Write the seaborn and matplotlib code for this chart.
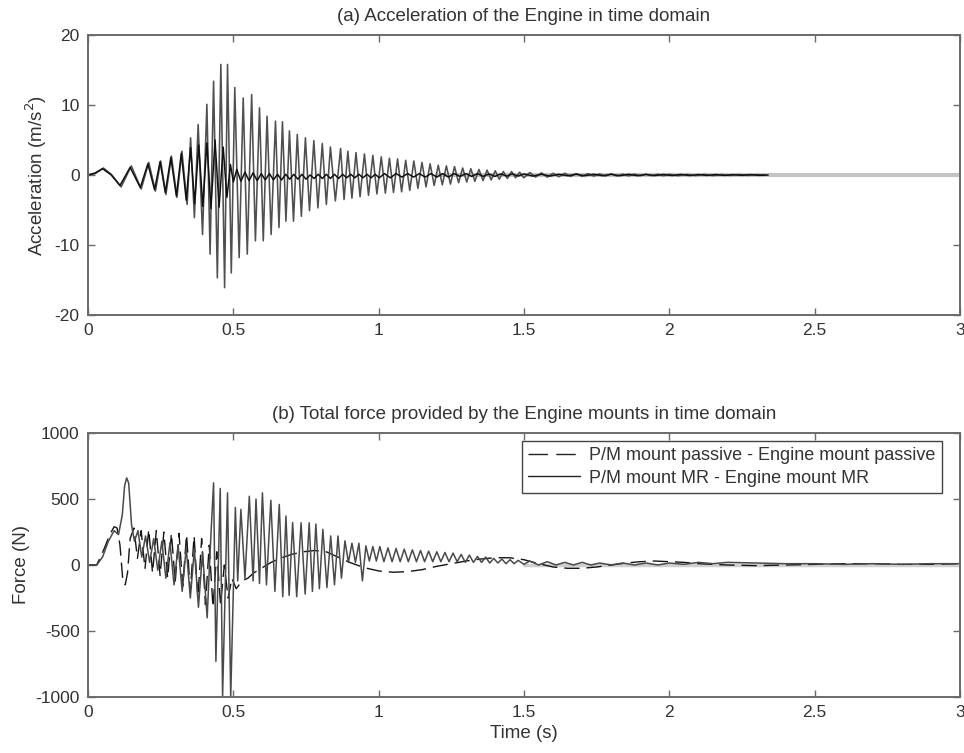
import matplotlib
matplotlib.use("Agg")
import matplotlib.pyplot as plt
import seaborn as sns
from matplotlib.lines import Line2D

# ---------------- data (extrema) ----------------
# (a) acceleration, series with large oscillation
acc1_t = [0.000, 0.025, 0.053, 0.080, 0.114, 0.149, 0.183, 0.209, 0.232, 0.250, 0.268, 0.287, 0.306, 0.323, 0.341,
          0.353, 0.366, 0.379, 0.394, 0.409, 0.420, 0.432, 0.445, 0.457, 0.470, 0.480, 0.493, 0.505, 0.520, 0.534,
          0.548, 0.563, 0.576, 0.590, 0.603, 0.616, 0.630, 0.645, 0.657, 0.669, 0.681, 0.693, 0.707, 0.720, 0.734,
          0.748, 0.762, 0.777, 0.791, 0.806, 0.820, 0.834, 0.851, 0.869, 0.881, 0.894, 0.908, 0.922, 0.936, 0.951,
          0.965, 0.980, 0.994, 1.009, 1.023, 1.037, 1.051, 1.065, 1.079, 1.093, 1.107, 1.121, 1.135, 1.149, 1.163,
          1.177, 1.191, 1.205, 1.219, 1.233, 1.247, 1.261, 1.275, 1.289, 1.303, 1.317, 1.331, 1.345, 1.359, 1.373,
          1.387, 1.401, 1.415, 1.429, 1.443, 1.457, 1.471, 1.485, 1.499, 1.520, 1.540, 1.560, 1.580, 1.600, 1.620,
          1.640, 1.660, 1.680, 1.700, 1.720, 1.740, 1.760, 1.780, 1.800, 1.820, 1.840, 1.860, 1.880, 1.900, 1.920,
          1.940, 1.960, 1.980, 2.000, 2.030, 2.060, 2.090, 2.120, 2.150, 2.180, 2.210, 2.240, 2.270, 2.300, 2.330]
acc1_v = [0.0, 0.2, 1.0, 0.1, -1.7, 1.3, -2.0, 1.8, -2.3, 2.0, -2.8, 2.7, -3.2, 3.4, -4.2,
          5.3, -6.1, 7.2, -8.5, 10.1, -11.3, 13.4, -14.7, 15.8, -16.1, 15.8, -14.0, 12.5, -11.8, 11.0,
          -11.3, 11.5, -9.4, 9.6, -9.4, 8.4, -8.5, 7.7, -7.5, 7.6, -6.6, 6.3, -6.6, 5.8, -5.9,
          5.3, -5.1, 4.9, -4.7, 4.5, -4.2, 4.0, -3.7, 3.8, -3.5, 3.4, -3.3, 3.2, -3.1, 3.0,
          -2.9, 2.8, -2.7, 2.6, -2.6, 2.4, -2.5, 2.3, -2.4, 2.1, -2.2, 2.0, -1.9, 1.8, -1.7,
          1.6, -1.5, 1.4, -1.4, 1.3, -1.3, 1.2, -1.1, 1.0, -1.0, 0.9, -0.9, 0.8, -0.8, 0.7,
          -0.7, 0.6, -0.6, 0.5, -0.5, 0.5, -0.4, 0.4, -0.4, 0.35, -0.3, 0.3, -0.3, 0.25, -0.25,
          0.25, -0.2, 0.2, -0.2, 0.2, -0.15, 0.15, -0.15, 0.15, -0.15, 0.12, -0.12, 0.12, -0.1, 0.1,
          -0.1, 0.1, -0.1, 0.1, -0.1, 0.08, -0.08, 0.08, -0.08, 0.06, -0.06, 0.06, -0.05, 0.05, 0.0]

# (a) acceleration, series with moderate oscillation
acc2_t = [0.000, 0.025, 0.050, 0.080, 0.110, 0.145, 0.180, 0.206, 0.229, 0.248, 0.266, 0.285, 0.304, 0.321, 0.338,
          0.353, 0.367, 0.381, 0.395, 0.409, 0.423, 0.437, 0.451, 0.465, 0.478, 0.490, 0.500, 0.512, 0.526, 0.540,
          0.554, 0.568, 0.582, 0.596, 0.610, 0.624, 0.638, 0.652, 0.666, 0.680, 0.694, 0.708, 0.722, 0.736, 0.750,
          0.764, 0.778, 0.792, 0.806, 0.820, 0.834, 0.848, 0.862, 0.876, 0.890, 0.904, 0.918, 0.932, 0.946, 0.960,
          0.974, 0.988, 1.002, 1.020, 1.040, 1.060, 1.080, 1.100, 1.120, 1.140, 1.160, 1.180, 1.200, 1.220, 1.240,
          1.260, 1.280, 1.300, 1.320, 1.340, 1.360, 1.380, 1.400, 1.420, 1.440, 1.460, 1.480, 1.500, 1.530, 1.560,
          1.590, 1.620, 1.650, 1.680, 1.710, 1.740, 1.770, 1.800, 1.830, 1.860, 1.890, 1.920, 1.950, 1.980, 2.010,
          2.040, 2.070, 2.100, 2.130, 2.160, 2.190, 2.220, 2.250, 2.280, 2.310, 2.340]
acc2_v = [0.0, 0.3, 0.9, 0.0, -1.5, 1.1, -1.8, 1.6, -2.1, 1.9, -2.5, 2.5, -3.0, 3.1, -3.6,
          3.9, -4.1, 4.3, -4.5, 4.6, -4.8, 5.0, -4.6, 4.0, -3.2, 1.5, -1.0, 0.8, -0.9, 0.4,
          -0.8, 0.3, -0.8, 0.2, -0.7, 0.2, -0.7, 0.1, -0.7, 0.1, -0.6, 0.1, -0.6, 0.1, -0.6,
          0.0, -0.5, 0.1, -0.5, 0.1, -0.5, 0.1, -0.5, 0.1, -0.4, 0.1, -0.4, 0.1, -0.4, 0.1,
          -0.4, 0.1, -0.4, 0.2, -0.4, 0.2, -0.3, 0.2, -0.3, 0.2, -0.3, 0.2, -0.3, 0.2, -0.3,
          0.2, -0.2, 0.2, -0.2, 0.2, -0.2, 0.15, -0.2, 0.15, -0.15, 0.15, -0.15, 0.15, -0.15, 0.1,
          -0.15, 0.1, -0.1, 0.1, -0.1, 0.1, -0.1, 0.1, -0.1, 0.1, -0.1, 0.08, -0.08, 0.08, -0.08,
          0.08, -0.08, 0.06, -0.06, 0.06, -0.06, 0.05, -0.05, 0.05, -0.05, 0.0]

# grey settled trace along zero
acc_rest_t = [1.20, 3.00]
acc_rest_v = [0.0, 0.0]

# (b) force, MR mounts (solid)
mr_t = [0.000, 0.030, 0.050, 0.070, 0.090, 0.105, 0.118, 0.126, 0.133, 0.140, 0.150, 0.160, 0.172, 0.185, 0.198,
        0.212, 0.226, 0.240, 0.254, 0.268, 0.282, 0.296, 0.310, 0.324, 0.338, 0.352, 0.366, 0.380, 0.394, 0.410,
        0.420, 0.432, 0.440, 0.455, 0.463, 0.480, 0.491, 0.507, 0.515, 0.526, 0.540, 0.555, 0.568, 0.578, 0.590,
        0.600, 0.614, 0.629, 0.643, 0.658, 0.670, 0.681, 0.692, 0.704, 0.718, 0.733, 0.747, 0.761, 0.772, 0.784,
        0.796, 0.808, 0.822, 0.835, 0.848, 0.860, 0.872, 0.884, 0.896, 0.908, 0.920, 0.932, 0.944, 0.956, 0.968,
        0.980, 0.992, 1.004, 1.018, 1.032, 1.046, 1.060, 1.074, 1.088, 1.102, 1.116, 1.130, 1.144, 1.158, 1.172,
        1.186, 1.200, 1.214, 1.228, 1.242, 1.256, 1.270, 1.284, 1.298, 1.312, 1.326, 1.340, 1.354, 1.368, 1.382,
        1.396, 1.410, 1.424, 1.438, 1.452, 1.466, 1.480, 1.500, 1.520, 1.550, 1.580, 1.610, 1.640, 1.670, 1.700,
        1.730, 1.760, 1.800, 1.840, 1.880, 1.920, 1.960, 2.000, 2.050, 2.100, 2.150, 2.200, 2.300, 2.400, 2.500,
        2.600, 2.700, 2.800, 2.900, 3.000]
mr_v = [0, 0, 60, 180, 260, 230, 380, 600, 660, 620, 300, 180, 260, 60, 220,
        20, 200, -40, 180, -100, 170, -150, 150, -200, 130, -250, 120, -320, 100, -400,
        100, 622, -730, 580, -1000, 547, -1000, 436, -120, 421, -100, 521, -120, 500, -140,
        547, -150, 490, -200, 459, -240, 371, -230, 322, -240, 320, -220, 320, -200, 310,
        -180, 270, -170, 220, -150, 220, -100, 183, 20, 165, 20, 165, -120, 145, 30,
        140, 30, 140, 25, 130, 25, 125, 25, 120, 25, 115, 25, 110, 25, 105,
        25, 100, 25, 95, 25, 90, 25, 80, 20, 75, 20, 65, 20, 60, 15,
        50, 15, 45, 10, 40, 10, 35, 5, 30, 0, 25, 0, 20, 0, 20,
        0, 15, 0, 15, 0, 15, 0, 15, 5, 20, 10, 20, 15, 10, 10,
        5, 10, 5, 10, 10]

# (b) force, passive mounts (dashed)
pas_t = [0.000, 0.030, 0.055, 0.075, 0.090, 0.100, 0.110, 0.120, 0.128, 0.136, 0.145, 0.158, 0.170, 0.183, 0.196,
         0.209, 0.222, 0.235, 0.248, 0.261, 0.274, 0.287, 0.300, 0.313, 0.326, 0.339, 0.352, 0.365, 0.378, 0.391,
         0.404, 0.417, 0.430, 0.443, 0.456, 0.469, 0.482, 0.495, 0.510, 0.530, 0.550, 0.570, 0.600, 0.630, 0.660,
         0.700, 0.740, 0.780, 0.820, 0.860, 0.900, 0.950, 1.000, 1.050, 1.100, 1.150, 1.200, 1.250, 1.300, 1.350,
         1.400, 1.450, 1.500, 1.550, 1.600, 1.650, 1.700, 1.750, 1.800, 1.850, 1.900, 1.950, 2.000, 2.050, 2.100,
         2.200, 2.300, 2.400, 2.500, 2.600, 2.700, 2.800, 2.900, 3.000]
pas_v = [0, 0, 120, 230, 290, 280, 150, -120, -150, -60, 200, 280, 50, 260, -30,
         270, -60, 260, -80, 250, -100, 240, -130, 240, -160, 230, -200, 220, -250, 200,
         -300, 150, -320, 100, -300, 0, -250, -100, -180, -120, -100, -60, -20, 20, 50,
         80, 100, 110, 100, 60, 20, -20, -45, -55, -50, -35, -10, 10, 30, 45,
         55, 55, 40, 10, -15, -25, -25, -15, 0, 15, 25, 30, 25, 20, 10,
         0, -5, 0, 5, 10, 10, 5, 5, 10]

force_rest_t = [1.50, 3.00]
force_rest_v = [0.0, 0.0]

x_ticks = [0, 0.5, 1, 1.5, 2, 2.5, 3]
x_tick_labels = ["0", "0.5", "1", "1.5", "2", "2.5", "3"]
acc_ticks = [-20, -10, 0, 10, 20]
force_ticks = [-1000, -500, 0, 500, 1000]

legend_labels = ["P/M mount passive - Engine mount passive", "P/M mount MR - Engine mount MR"]

# ---------------- styling ----------------
sns.set_theme(style="white")
plt.rcParams["font.family"] = ["Liberation Sans", "DejaVu Sans"]
plt.rcParams["axes.unicode_minus"] = False
plt.rcParams["lines.scale_dashes"] = False

TXT = "#333333"
SPINE = "#6a6a6a"
FS_TICK = 12.5
FS_LAB = 13.5
FS_LEG = 13

fig = plt.figure(figsize=(9.64, 7.53), dpi=100)
ax1 = fig.add_axes([88 / 964, 1 - 315 / 753, 872 / 964, 280 / 753])
ax2 = fig.add_axes([88 / 964, 1 - 697 / 753, 872 / 964, 264 / 753])

# top panel
sns.lineplot(x=acc_rest_t, y=acc_rest_v, ax=ax1, color="#c4c4c4", linewidth=3.0,
             estimator=None, sort=False)
sns.lineplot(x=acc1_t, y=acc1_v, ax=ax1, color="#505050", linewidth=1.15,
             estimator=None, sort=False)
sns.lineplot(x=acc2_t, y=acc2_v, ax=ax1, color="#111111", linewidth=1.1,
             estimator=None, sort=False)

# bottom panel
sns.lineplot(x=force_rest_t, y=force_rest_v, ax=ax2, color="#d0d0d0", linewidth=2.5,
             estimator=None, sort=False)
sns.lineplot(x=pas_t, y=pas_v, ax=ax2, color="#151515", linewidth=1.0,
             linestyle=(0, (11, 5)), estimator=None, sort=False)
sns.lineplot(x=mr_t, y=mr_v, ax=ax2, color="#4a4a4a", linewidth=1.1,
             estimator=None, sort=False)

for ax, yt, ylim in ((ax1, acc_ticks, (-20, 20)), (ax2, force_ticks, (-1000, 1000))):
    ax.set_xlim(0, 3)
    ax.set_ylim(*ylim)
    ax.set_xticks(x_ticks)
    ax.set_xticklabels(x_tick_labels)
    ax.set_yticks(yt)
    ax.set_yticklabels([str(v) for v in yt])
    ax.tick_params(direction="in", bottom=True, left=True, top=True, right=True,
                   length=5, width=1, color=SPINE, labelsize=FS_TICK, labelcolor=TXT, pad=6)
    for s in ax.spines.values():
        s.set_color(SPINE)
        s.set_linewidth(1.4)
    ax.set_facecolor("white")

ax1.set_title("(a) Acceleration of the Engine in time domain", fontsize=FS_LAB, color=TXT, pad=10)
ax2.set_title("(b) Total force provided by the Engine mounts in time domain", fontsize=FS_LAB, color=TXT, pad=10)
ax1.set_ylabel("Acceleration (m/s$^2$)", fontsize=FS_LAB, color=TXT, labelpad=4)
ax2.set_ylabel("Force (N)", fontsize=FS_LAB, color=TXT, labelpad=4)
ax1.set_xlabel("")
ax2.set_xlabel("Time (s)", fontsize=FS_LAB, color=TXT, labelpad=3)

handles = [Line2D([], [], color="#222222", linewidth=1.0, linestyle=(0, (14, 6))),
           Line2D([], [], color="#222222", linewidth=1.0)]
leg = ax2.legend(handles, legend_labels, loc="upper right",
                 bbox_to_anchor=((942 - 88) / 872, (697 - 441) / 264), borderaxespad=0,
                 fontsize=FS_LEG, frameon=True, fancybox=False, framealpha=1,
                 edgecolor="#444444", handlelength=2.9, labelspacing=0.3, borderpad=0.35,
                 handletextpad=0.5)
for t in leg.get_texts():
    t.set_color(TXT)
leg.get_frame().set_linewidth(1.0)

fig.savefig("out.png", dpi=100, facecolor="white")
